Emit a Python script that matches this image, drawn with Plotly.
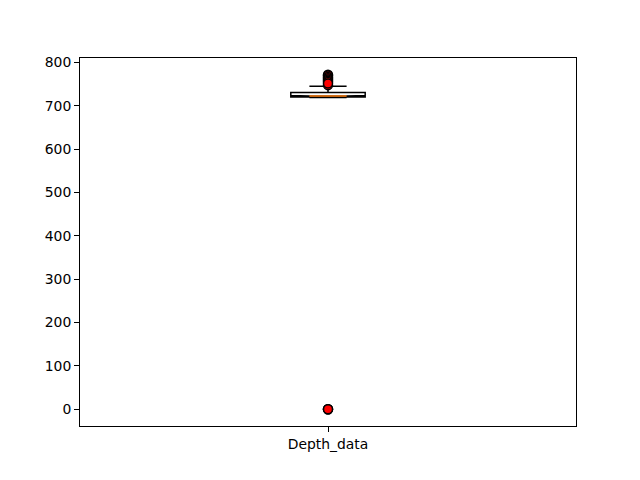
import plotly.graph_objects as go

# ---- data ----
categories = ["Depth_data"]
q1_vals = [720.5]
median_vals = [723.0]
q3_vals = [731.0]
lower_fence_vals = [719.5]
upper_fence_vals = [745.5]
outlier_vals = [0.0, 0.0, 0.0, 772.0, 770.0, 767.0, 764.0, 761.0, 758.0, 755.0, 748.0, 752.0]
y_tick_vals = [0, 100, 200, 300, 400, 500, 600, 700, 800]

pos = 1.0
box_width = 0.15

fig = go.Figure()
fig.add_trace(go.Box(
    x=[pos], q1=q1_vals, median=median_vals, q3=q3_vals,
    lowerfence=lower_fence_vals, upperfence=upper_fence_vals,
    notched=True, notchspan=[1.0], notchwidth=0.25,
    width=box_width, whiskerwidth=0.5,
    line=dict(color="black", width=1.5),
    fillcolor="rgba(0,0,0,0)",
    boxpoints=False, hoverinfo="skip", showlegend=False,
))
# median line (matplotlib draws it orange)
fig.add_trace(go.Scatter(
    x=[pos - box_width / 4, pos + box_width / 4],
    y=[median_vals[0], median_vals[0]],
    mode="lines", line=dict(color="#ff7f0e", width=1.5),
    showlegend=False, hoverinfo="skip",
))
# outliers
fig.add_trace(go.Scatter(
    x=[pos] * len(outlier_vals), y=outlier_vals, mode="markers",
    marker=dict(color="red", size=9, line=dict(color="black", width=1.5)),
    showlegend=False, hoverinfo="skip",
))

ymax = max(outlier_vals)
ymin = min(outlier_vals)
pad = (ymax - ymin) * 0.05

fig.update_layout(
    width=640, height=480,
    margin=dict(l=80, r=64, t=58, b=54),
    paper_bgcolor="white", plot_bgcolor="white",
    font=dict(family="DejaVu Sans", size=13.9, color="black"),
    xaxis=dict(
        range=[0.5, 1.5], tickvals=[pos], ticktext=categories,
        showgrid=False, zeroline=False, showline=True, linecolor="black",
        linewidth=1, mirror=True, ticks="outside", ticklen=5, tickcolor="black",
    ),
    yaxis=dict(
        range=[ymin - pad, ymax + pad], tickvals=y_tick_vals,
        showgrid=False, zeroline=False, showline=True, linecolor="black",
        linewidth=1, mirror=True, ticks="outside", ticklen=5, tickcolor="black",
    ),
)

fig.write_html("out.html")
